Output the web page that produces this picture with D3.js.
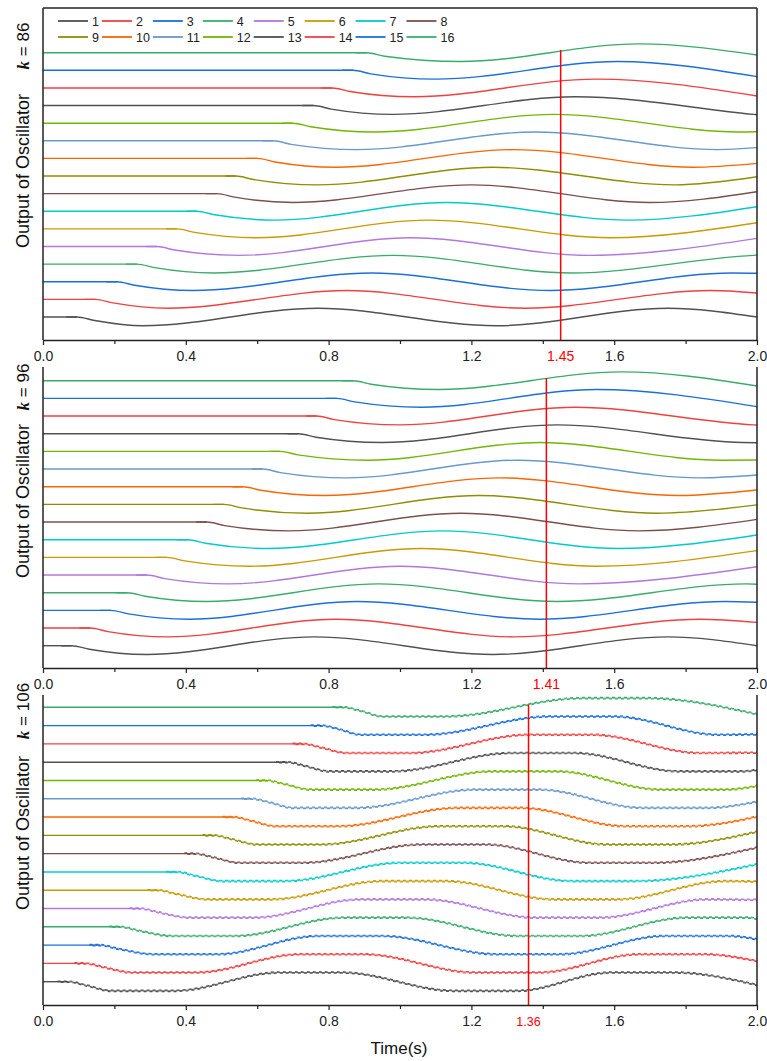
<!DOCTYPE html>
<html>
<head>
<meta charset="utf-8">
<script src="https://cdn.jsdelivr.net/npm/d3@7"></script>
<style>
  body { margin: 0; background: #fff; }
  svg { display: block; font-family: "Liberation Sans", Arial, sans-serif; }
</style>
</head>
<body>
<svg id="chart" width="767" height="1061"></svg>
<script>
// ---- data ----
const oscNames = ["1", "2", "3", "4", "5", "6", "7", "8", "9", "10", "11", "12", "13", "14", "15", "16"];
const kValues = [86, 96, 106];
const xTicks = [0, 0.4, 0.8, 1.2, 1.6, 2.0];
const xMinorTicks = [0.2, 0.6, 1.0, 1.4, 1.8];
const markerTimes = [1.45, 1.41, 1.36];

// k = 86: time each oscillator leaves its flat line, times of its troughs/peaks (alternating, trough first), value at t = 2
const k86Start = [0.095, 0.146, 0.207, 0.263, 0.319, 0.375, 0.431, 0.487, 0.54, 0.60, 0.645, 0.70, 0.757, 0.81, 0.868, 0.907];
const k86Turns = [
  [0.28, 0.77, 1.27, 1.75],
  [0.35, 0.85, 1.35, 1.87],
  [0.42, 0.92, 1.42, 1.93],
  [0.48, 0.98, 1.48, 1.99],
  [0.55, 1.03, 1.53],
  [0.60, 1.08, 1.59],
  [0.65, 1.13, 1.64],
  [0.70, 1.20, 1.70],
  [0.77, 1.26, 1.77],
  [0.82, 1.32, 1.82],
  [0.88, 1.38, 1.89],
  [0.93, 1.43, 1.95],
  [0.98, 1.49, 1.99],
  [1.04, 1.55],
  [1.10, 1.61],
  [1.17, 1.67]
];
const k86End = [0.0, 0.36, 0.48, 0.51, 0.46, 0.35, 0.26, 0.11, -0.04, -0.28, -0.39, -0.49, -0.52, -0.46, -0.36, -0.13];

// k = 96
const k96Start = [0.08, 0.132, 0.19, 0.236, 0.291, 0.347, 0.405, 0.459, 0.507, 0.56, 0.615, 0.664, 0.715, 0.766, 0.823, 0.869];
const k96Turns = [
  [0.29, 0.76, 1.26, 1.75],
  [0.35, 0.82, 1.32, 1.84],
  [0.41, 0.88, 1.39, 1.91],
  [0.46, 0.94, 1.44, 1.97],
  [0.52, 1.00, 1.50],
  [0.58, 1.06, 1.55],
  [0.63, 1.12, 1.61],
  [0.69, 1.17, 1.67],
  [0.74, 1.22, 1.72],
  [0.79, 1.28, 1.78],
  [0.85, 1.33, 1.84],
  [0.91, 1.39, 1.90],
  [0.95, 1.44, 1.96],
  [1.00, 1.49, 1.99],
  [1.06, 1.55],
  [1.11, 1.62]
];
const k96End = [0.0, 0.32, 0.46, 0.48, 0.47, 0.38, 0.27, 0.15, -0.03, -0.19, -0.34, -0.49, -0.51, -0.51, -0.47, -0.30];

// k = 106 (turns are centres of flattened troughs/peaks)
const k106Start = [0.071, 0.118, 0.16, 0.216, 0.272, 0.323, 0.375, 0.426, 0.477, 0.533, 0.585, 0.627, 0.683, 0.729, 0.78, 0.841];
const k106Turns = [
  [0.28, 0.75, 1.24, 1.68],
  [0.34, 0.81, 1.30, 1.76],
  [0.40, 0.86, 1.36, 1.83],
  [0.45, 0.93, 1.42, 1.89],
  [0.50, 0.98, 1.47, 1.95],
  [0.55, 1.04, 1.52, 2.0],
  [0.59, 1.09, 1.57],
  [0.64, 1.15, 1.62],
  [0.69, 1.20, 1.67],
  [0.74, 1.25, 1.72],
  [0.79, 1.30, 1.77],
  [0.84, 1.35, 1.82],
  [0.89, 1.40, 1.87],
  [0.94, 1.45, 1.93],
  [0.98, 1.51, 1.98],
  [1.04, 1.60]
];
const k106End = [-0.18, 0.13, 0.32, 0.43, 0.47, 0.47, 0.42, 0.33, 0.20, 0.02, -0.16, -0.30, -0.43, -0.48, -0.48, -0.38];

const swing = [0.5, 0.5, 0.5];      // half height of the oscillation
const flatTop = [0, 0, 0.09];       // half width of the flattened tops at k = 106

// ---- drawing ----
const palette = ["#515151", "#F14040", "#1A6FDF", "#37AD6B", "#B177DE", "#CC9900", "#00CBCC", "#7D4E4E",
                 "#8E8E00", "#FB6501", "#6699CC", "#6FB802", "#515151", "#F14040", "#1A6FDF", "#37AD6B"];

const panels = [
  { start: k86Start, turns: k86Turns, ends: k86End, base0: 317, base15: 52.7, top: 8, bottom: 340, box: true, kCy: 46, outCy: 171, markSize: 14 },
  { start: k96Start, turns: k96Turns, ends: k96End, base0: 645.7, base15: 380.7, top: 367, bottom: 668, box: false, kCy: 387, outCy: 501, markSize: 14 },
  { start: k106Start, turns: k106Turns, ends: k106End, base0: 981.7, base15: 707.3, top: 695, bottom: 1005, box: false, kCy: 711, outCy: 833, markSize: 12.5 }
];

const svg = d3.select("#chart");
const x = d3.scaleLinear().domain([0, 2]).range([43, 757]);

svg.append("defs").append("clipPath").attr("id", "plotClip")
  .append("rect").attr("x", 43).attr("y", 0).attr("width", 714).attr("height", 1061);

function traceKnots(s, turns, endVal, amp, half) {
  const pts = [[s, 0], [s + 0.05, -0.2]];
  turns.forEach((c, j) => {
    const v = j % 2 === 0 ? -amp : amp;
    if (half > 0) pts.push([c - half, v], [c + half, v]);
    else pts.push([c, v]);
  });
  const kept = pts.filter(p => p[0] < 2);
  kept.push([2, endVal]);
  return kept;
}

const axisColor = "#222";

panels.forEach((P, pi) => {
  const y = d3.scaleLinear().domain([0, 15]).range([P.base0, P.base15]);
  const line = d3.line().x(d => x(d[0])).y(d => y(d[1])).curve(d3.curveMonotoneX);
  const plot = svg.append("g").attr("clip-path", "url(#plotClip)");

  oscNames.forEach((name, i) => {
    const s = P.start[i];
    const knots = traceKnots(s, P.turns[i], P.ends[i], swing[pi], flatTop[pi]).map(d => [d[0], d[1] + i]);
    plot.append("path")
      .attr("d", line([[0, i], [s, i]]))
      .attr("fill", "none").attr("stroke", palette[i]).attr("stroke-width", 1.4);
    const wave = line([[s - 0.03, i]].concat(knots));
    if (pi < 2) {
      plot.append("path").attr("d", wave)
        .attr("fill", "none").attr("stroke", palette[i]).attr("stroke-width", 1.4);
    } else {
      // k = 106 traces carry a fine ripple: thin core plus two staggered dashed copies
      plot.append("path").attr("d", wave)
        .attr("fill", "none").attr("stroke", palette[i]).attr("stroke-width", 0.9);
      [-0.75, 0.75].forEach((dy, j) => {
        plot.append("path").attr("d", wave).attr("transform", `translate(0,${dy})`)
          .attr("fill", "none").attr("stroke", palette[i]).attr("stroke-width", 1.1)
          .attr("stroke-dasharray", "3 3").attr("stroke-dashoffset", j * 3);
      });
    }
  });

  // red time marker
  const mx = x(markerTimes[pi]);
  svg.append("line").attr("x1", mx).attr("x2", mx).attr("y1", y(15.15)).attr("y2", P.bottom)
    .attr("stroke", "#ff0000").attr("stroke-width", 1.5);

  // frame
  svg.append("line").attr("x1", 43).attr("x2", 43).attr("y1", P.top).attr("y2", P.bottom)
    .attr("stroke", axisColor).attr("stroke-width", 1.5);
  svg.append("line").attr("x1", 757).attr("x2", 757).attr("y1", P.top).attr("y2", P.bottom)
    .attr("stroke", axisColor).attr("stroke-width", 1.5);
  if (P.box) {
    svg.append("line").attr("x1", 43).attr("x2", 757).attr("y1", P.top).attr("y2", P.top)
      .attr("stroke", axisColor).attr("stroke-width", 1.5);
  }

  const ax = svg.append("g").attr("transform", `translate(0,${P.bottom})`)
    .call(d3.axisBottom(x).tickValues(xTicks).tickFormat(d3.format(".1f"))
      .tickSize(5).tickSizeOuter(0).tickPadding(6));
  ax.select(".domain").attr("stroke", axisColor).attr("stroke-width", 1.5);
  ax.selectAll(".tick line").attr("stroke", axisColor).attr("stroke-width", 1.2);
  ax.selectAll(".tick text").attr("font-size", 14).attr("font-family", "Liberation Sans, Arial, sans-serif").attr("fill", "#222");

  const minor = svg.append("g").attr("transform", `translate(0,${P.bottom})`)
    .call(d3.axisBottom(x).tickValues(xMinorTicks).tickFormat("").tickSize(4).tickSizeOuter(0));
  minor.select(".domain").remove();
  minor.selectAll(".tick line").attr("stroke", axisColor).attr("stroke-width", 1.2);

  svg.append("text").attr("x", mx).attr("y", P.bottom + 21).attr("text-anchor", "middle")
    .attr("font-size", P.markSize).attr("fill", "#ff0000").text(markerTimes[pi].toFixed(2));

  // y titles
  svg.append("text").attr("transform", `translate(28.5,${P.outCy}) rotate(-90)`)
    .attr("text-anchor", "middle").attr("font-size", 18).attr("fill", "#111")
    .text("Output of Oscillator");
  const kt = svg.append("text").attr("transform", `translate(28.5,${P.kCy}) rotate(-90)`)
    .attr("text-anchor", "middle").attr("font-size", 17).attr("fill", "#111");
  kt.append("tspan").attr("font-family", "Liberation Serif, Times New Roman, serif")
    .attr("font-style", "italic").attr("font-weight", "bold").text("k");
  kt.append("tspan").text(" = " + kValues[pi]);
});

// legend inside the first panel
const legend = svg.append("g").attr("font-size", 12.5).attr("fill", "#222");
let colX = 58;
for (let c = 0; c < 8; c++) {
  let maxW = 0;
  [c, c + 8].forEach((i, r) => {
    const cy = 21 + r * 16;
    legend.append("line").attr("x1", colX).attr("x2", colX + 30).attr("y1", cy).attr("y2", cy)
      .attr("stroke", palette[i]).attr("stroke-width", 1.8);
    const t = legend.append("text").attr("x", colX + 34).attr("y", cy + 4.5).text(oscNames[i]);
    maxW = Math.max(maxW, t.node().getComputedTextLength());
  });
  colX += 34 + maxW + 3;
}

svg.append("text").attr("x", 399).attr("y", 1054).attr("text-anchor", "middle")
  .attr("font-size", 17).attr("fill", "#111").text("Time(s)");
</script>
</body>
</html>
